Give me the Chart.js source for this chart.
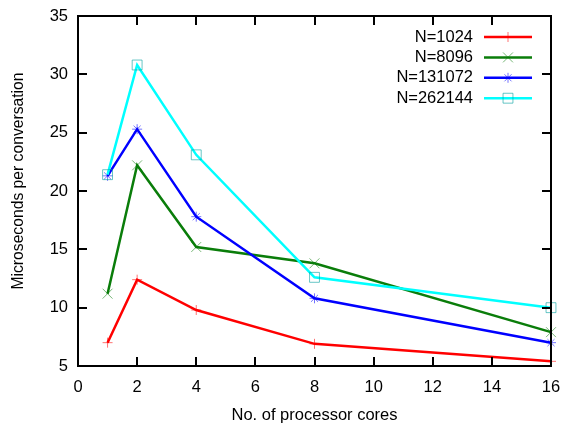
<!DOCTYPE html>
<html>
<head>
<meta charset="utf-8">
<title>Microseconds per conversation</title>
<script src="https://cdn.jsdelivr.net/npm/chart.js@4.4.1/dist/chart.umd.min.js"></script>
<style>
  html, body { margin: 0; padding: 0; background: #fff; }
  #wrap { width: 561px; height: 427px; position: relative; }
</style>
</head>
<body>
<div id="wrap"><canvas id="grafico"></canvas></div>
<script>
// dados: tempo por conversão vs número de núcleos
const cores = [1, 2, 4, 8, 16];
const serieN1024 = [7.0, 12.4, 9.8, 6.9, 5.4];
const serieN8096 = [11.2, 22.2, 15.2, 13.8, 7.9];
const serieN131072 = [21.3, 25.3, 17.8, 10.8, 7.0];
const serieN262144 = [21.4, 30.8, 23.1, 12.6, 10.0];
const rotulos = ['N=1024', 'N=8096', 'N=131072', 'N=262144'];
const ticksX = [0, 2, 4, 6, 8, 10, 12, 14, 16];
const ticksY = [5, 10, 15, 20, 25, 30, 35];
const tituloY = 'Microseconds per conversation';
const tituloX = 'No. of processor cores';

const cores_linha = ['#ff0000', '#0a7d0a', '#0000ff', '#00ffff'];
const cores_ponto = ['rgba(255,0,0,0.55)', 'rgba(10,125,10,0.55)', 'rgba(0,0,255,0.55)', 'rgba(0,160,160,0.6)'];
const estilos = ['cross', 'crossRot', 'star', 'rect'];
const raios = [5, 7, 5, 7];

const FONTE = "'Liberation Sans', Arial, sans-serif";
Chart.defaults.font.family = FONTE;
Chart.defaults.font.size = 16.5;
Chart.defaults.color = '#000';

function montarSerie(i, valores) {
    return {
        label: rotulos[i],
        data: cores.map((c, k) => ({ x: c, y: valores[k] })),
        borderColor: cores_linha[i],
        borderWidth: 2.5,
        pointStyle: estilos[i],
        pointRadius: raios[i],
        pointBorderColor: cores_ponto[i],
        pointBackgroundColor: 'rgba(0,0,0,0)',
        pointBorderWidth: 1,
        tension: 0,
        fill: false,
        clip: false,
        order: 4 - i
    };
}

// moldura com marcas internas e espelhadas + título do eixo Y
const molduraPlugin = {
    id: 'moldura',
    afterDraw(chart) {
        const { ctx, chartArea: a, scales } = chart;
        const tam = 9;
        ctx.save();
        ctx.strokeStyle = '#000';
        ctx.lineWidth = 2;
        ctx.beginPath();
        ticksX.forEach(v => {
            const px = Math.round(scales.x.getPixelForValue(v));
            ctx.moveTo(px, a.bottom); ctx.lineTo(px, a.bottom - tam);
            ctx.moveTo(px, a.top); ctx.lineTo(px, a.top + tam);
        });
        ticksY.forEach(v => {
            const py = Math.round(scales.y.getPixelForValue(v));
            ctx.moveTo(a.left, py); ctx.lineTo(a.left + tam, py);
            ctx.moveTo(a.right, py); ctx.lineTo(a.right - tam, py);
        });
        ctx.stroke();
        ctx.strokeRect(a.left, a.top, a.right - a.left, a.bottom - a.top);

        // título vertical
        ctx.translate(19, 181);
        ctx.rotate(-Math.PI / 2);
        ctx.font = '15.7px ' + FONTE;
        ctx.fillStyle = '#000';
        ctx.textAlign = 'center';
        ctx.textBaseline = 'middle';
        ctx.fillText(tituloY, 0, 0);
        ctx.restore();
    }
};

// legenda no estilo gnuplot: texto à esquerda, amostra à direita
const legendaPlugin = {
    id: 'legendaGnuplot',
    afterDatasetsDraw(chart) {
        const { ctx } = chart;
        const xTexto = 473, x0 = 484, x1 = 532, y0 = 37, passo = 20.4;
        ctx.save();
        ctx.font = '16.5px ' + FONTE;
        ctx.textAlign = 'right';
        ctx.textBaseline = 'middle';
        chart.data.datasets.forEach((ds, i) => {
            const y = y0 + i * passo;
            ctx.fillStyle = '#000';
            ctx.fillText(ds.label, xTexto, y);
            ctx.strokeStyle = ds.borderColor;
            ctx.lineWidth = ds.borderWidth;
            ctx.beginPath();
            ctx.moveTo(x0, y); ctx.lineTo(x1, y);
            ctx.stroke();
            ctx.strokeStyle = ds.pointBorderColor;
            ctx.fillStyle = 'rgba(0,0,0,0)';
            ctx.lineWidth = 1;
            Chart.helpers.drawPoint(ctx, { pointStyle: ds.pointStyle, radius: ds.pointRadius, rotation: 0, borderWidth: 1 }, (x0 + x1) / 2, y);
        });
        ctx.restore();
    }
};

new Chart(document.getElementById('grafico'), {
    type: 'line',
    data: {
        datasets: [
            montarSerie(0, serieN1024),
            montarSerie(1, serieN8096),
            montarSerie(2, serieN131072),
            montarSerie(3, serieN262144)
        ]
    },
    options: {
        responsive: true,
        maintainAspectRatio: false,
        animation: false,
        layout: { padding: { left: 0, right: 10, top: 16, bottom: 0 } },
        plugins: {
            legend: { display: false },
            tooltip: { enabled: false }
        },
        scales: {
            x: {
                type: 'linear',
                min: 0,
                max: 16,
                afterBuildTicks: s => { s.ticks = ticksX.map(v => ({ value: v })); },
                afterFit: s => { s.height = 61; s.paddingLeft = 0; s.paddingRight = 0; },
                grid: { display: false, drawTicks: false },
                border: { display: false },
                ticks: { padding: 12, maxRotation: 0, autoSkip: false },
                title: { display: true, text: tituloX, padding: { top: 0, bottom: 2 } }
            },
            y: {
                type: 'linear',
                min: 5,
                max: 35,
                afterBuildTicks: s => { s.ticks = ticksY.map(v => ({ value: v })); },
                afterFit: s => { s.width = 78; s.paddingTop = 0; s.paddingBottom = 0; },
                grid: { display: false, drawTicks: false },
                border: { display: false },
                ticks: { padding: 10 },
                title: { display: false }
            }
        }
    },
    plugins: [molduraPlugin, legendaPlugin]
});
</script>
</body>
</html>
